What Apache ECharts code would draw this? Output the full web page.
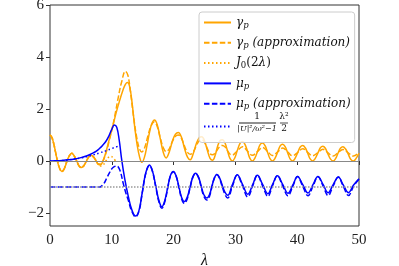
<!DOCTYPE html>
<html><head><meta charset="utf-8">
<script src="https://cdn.jsdelivr.net/npm/echarts@6/dist/echarts.min.js"></script>
<style>html,body{margin:0;padding:0;background:#fff}#c{width:399px;height:266px}</style>
</head><body><div id="c"></div>
<script>
// ---- data ----
var xTicks = [0, 10, 20, 30, 40, 50];
var yTicks = [-2, 0, 2, 4, 6];
var refLevels = [0, -1];

// common early part (lambda < 7.5) of the orange curves
var earlyL = [0,0.3,0.6,0.9,1.2,1.55,1.92,2.3,2.76,3.1,3.51,3.9,4.33,4.7,5.09,5.5,5.9,6.3,6.66,7.05,7.47];
var earlyV = [1.0,0.91,0.67,0.34,0.0,-0.28,-0.40,-0.30,0.0,0.19,0.30,0.20,0.0,-0.19,-0.25,-0.17,0.0,0.16,0.22,0.15,0.0];

// gamma_p (solid orange), after the early part
var gammaL = [7.85,8.15,8.55,9.0,9.4,9.8,10.2,10.7,11.3,11.8,12.2,12.55,12.9,13.3,13.7,14.1,14.5,14.85,15.25,15.7,16.1,16.5,16.9,17.35,17.85,18.35,18.8,19.3,19.85,20.3,20.75,21.25,21.75,22.25,22.7,23.2,23.7,24.15,24.55,25.0,25.45,25.9,26.3,26.7,27.1,27.5,27.9,28.3,28.7,29.1,29.5,29.9,30.3,30.75,31.15,31.55,31.95,32.35,32.75,33.15,33.6,34.0,34.4,34.8,35.2,35.6,36.0,36.4,36.85,37.25,37.65,38.05,38.45,38.85,39.25,39.65,40.1,40.5,40.9,41.3,41.7,42.1,42.5,42.9,43.35,43.75,44.15,44.55,44.95,45.4,45.8,46.2,46.6,47.0,47.4,47.8,48.25,48.65,49.1,49.5,50.0];
var gammaV = [-0.13,-0.15,-0.02,0.3,0.66,1.02,1.38,1.85,2.35,2.72,2.95,3.02,2.85,2.2,1.32,0.62,0.15,-0.05,0.12,0.6,1.1,1.45,1.58,1.4,0.85,0.32,0.12,0.35,0.8,1.03,1.1,0.93,0.5,0.15,0.05,0.3,0.68,0.9,0.93,0.78,0.42,0.1,0.03,0.2,0.55,0.78,0.82,0.7,0.41,0.11,0.0,0.12,0.4,0.68,0.75,0.64,0.38,0.1,0.0,0.11,0.38,0.63,0.69,0.59,0.34,0.09,0.0,0.1,0.35,0.58,0.64,0.55,0.32,0.08,0.0,0.1,0.33,0.54,0.6,0.51,0.3,0.08,0.0,0.09,0.31,0.51,0.57,0.49,0.28,0.07,0.0,0.09,0.3,0.49,0.55,0.47,0.27,0.07,0.0,0.09,0.3];

// gamma_p approximation (dashed orange), after the early part
var gammaApproxL = [7.85,8.2,8.6,9.2,9.6,10.0,10.5,11.05,11.6,12.2,12.6,13.0,13.5,14.0,14.45,14.85,15.3,15.8,16.3,16.85,17.35,17.85,18.35,18.8,19.3,19.8,20.3,20.75,21.25,21.75,22.25,22.7,23.2,23.7,24.15,24.55,25.0,25.45,25.9,26.3,26.7,27.1,27.5,27.9,28.3,28.7,29.1,29.5,30.3,31.15,31.95,32.75,33.6,34.4,35.2,36.0,36.85,37.65,38.45,39.25,40.1,40.9,41.7,42.5,43.35,44.15,44.95,45.8,46.6,47.4,48.25,49.1,50.0];
var gammaApproxV = [-0.12,-0.12,0.02,0.42,0.8,1.19,1.75,2.45,3.05,3.45,3.3,2.7,1.75,0.95,0.48,0.35,0.5,0.92,1.32,1.5,1.33,0.88,0.5,0.36,0.47,0.75,0.95,1.0,0.88,0.58,0.33,0.26,0.36,0.6,0.78,0.82,0.72,0.48,0.28,0.24,0.3,0.44,0.56,0.6,0.55,0.4,0.27,0.23,0.39,0.55,0.385,0.22,0.37,0.52,0.365,0.21,0.355,0.5,0.35,0.2,0.335,0.47,0.335,0.2,0.325,0.45,0.32,0.19,0.315,0.44,0.315,0.19,0.33];

// J0(2 lambda) (dotted orange), after the early part
var besselL = [7.85,8.24,8.65,9.04,9.4,9.81,10.2,10.6];
var besselV = [-0.15,-0.197,-0.14,0.0,0.13,0.18,0.13,0.0];

// mu_p (solid blue)
var muL = [0,1,2,3,4,5,6,7,7.5,8,8.5,9,9.5,10,10.4,10.8,11.2,11.6,12.1,12.66,13.2,13.85,14.4,14.9,15.5,16.1,16.6,17.1,17.6,18.1,18.6,19.1,19.5,19.95,20.4,20.85,21.3,21.75,22.2,22.65,23.1,23.55,24.0,24.45,24.9,25.4,25.8,26.2,26.6,27.0,27.4,27.85,28.3,28.75,29.5,30.3,31.15,32.0,32.8,33.55,34.4,35.25,36.0,36.8,37.65,38.5,39.3,40.05,40.9,41.75,42.55,43.35,44.2,45.0,45.8,46.65,47.45,48.3,49.1,50.0];
var muV = [0,0.005,0.02,0.045,0.08,0.13,0.2,0.31,0.38,0.48,0.6,0.74,0.95,1.22,1.38,1.3,0.8,0.05,-0.7,-1.35,-1.85,-2.12,-1.9,-1.25,-0.45,-0.15,-0.4,-0.95,-1.5,-1.76,-1.5,-0.95,-0.55,-0.4,-0.57,-0.98,-1.4,-1.56,-1.4,-1.02,-0.62,-0.47,-0.6,-0.95,-1.3,-1.42,-1.3,-0.97,-0.65,-0.52,-0.63,-0.92,-1.2,-1.32,-0.92,-0.53,-0.9,-1.28,-0.91,-0.55,-0.9,-1.26,-0.91,-0.57,-0.9,-1.24,-0.92,-0.6,-0.91,-1.23,-0.91,-0.6,-0.91,-1.22,-0.92,-0.62,-0.92,-1.22,-0.93,-0.68];

// mu_p approximation (dashed blue)
var muApproxL = [0,8,8.3,8.7,9.2,9.7,10.2,10.8,11.3,11.85,12.3,12.66,13.2,13.85,14.4,14.9,15.5,16.1,16.6,17.1,17.6,18.1,18.6,19.1,19.5,19.95,20.4,20.85,21.3,21.75,22.2,22.65,23.1,23.55,24.0,24.45,24.9,25.4,25.8,26.2,26.6,27.0,27.4,27.85,28.3,28.75,29.5,30.3,31.15,32.0,32.8,33.55,34.4,35.25,36.0,36.8,37.65,38.5,39.3,40.05,40.9,41.75,42.55,43.35,44.2,45.0,45.8,46.65,47.45,48.3,49.1,50.0];
var muApproxV = [-1,-1,-0.97,-0.88,-0.65,-0.42,-0.25,-0.19,-0.35,-0.86,-1.25,-1.5,-1.92,-2.15,-1.93,-1.27,-0.47,-0.17,-0.42,-0.98,-1.55,-1.82,-1.55,-0.98,-0.57,-0.41,-0.58,-1.0,-1.46,-1.63,-1.46,-1.05,-0.63,-0.48,-0.62,-0.99,-1.36,-1.5,-1.36,-1.0,-0.66,-0.52,-0.65,-0.97,-1.28,-1.42,-0.98,-0.54,-0.96,-1.38,-0.96,-0.55,-0.96,-1.36,-0.96,-0.57,-0.96,-1.34,-0.97,-0.6,-0.97,-1.34,-0.97,-0.61,-0.97,-1.33,-0.97,-0.62,-0.97,-1.33,-0.98,-0.7];

// 1/(|U|^2/w^2-1) * lambda^2/2 (dotted blue)
var quadL = [0,1,2,3,4,5,6,7,8,9,10,11.15];
var quadV = [0,0.005,0.02,0.045,0.08,0.12,0.17,0.235,0.31,0.39,0.48,0.58];

function pairs(L, V) { return L.map(function (l, i) { return [l, V[i]]; }); }

var ORANGE = '#FFA500', BLUE = '#0000FF';
var SERIF = '"DejaVu Serif", "Liberation Serif", serif';
var TSERIF = '"Liberation Serif", "DejaVu Serif", serif';

var names = ['g', 'ga', 'j0', 'm', 'ma', 'fr'];
var labels = {
  g: '{i|γ}{sb|p}',
  ga: '{i|γ}{sb|p}{i| (approximation)}',
  j0: '{i|J}{su|0}{r|(2}{i|λ}{r|)}',
  m: '{i|μ}{sb|p}',
  ma: '{i|μ}{sb|p}{i| (approximation)}',
  fr: '{blank| }'
};

function line(name, data, color, type) {
  return {
    name: name, type: 'line', data: data, smooth: 0.4, symbol: 'none', z: 3,
    lineStyle: { color: color, width: 1.5, type: type }, itemStyle: { color: color },
    clip: true, animation: false
  };
}

// fraction label of the last legend entry (text drawn next to its legend line)
var fracText = { num1: '1', den1: '|U|²/ω²−1', num2: 'λ²', den2: '2' };
var FX = 238, FY = 123;
function ftxt(t, x, y, italic, size) {
  return { type: 'text', z: 100, x: x, y: y, style: { text: t, fill: '#111', font: (italic ? 'italic ' : '') + size + 'px ' + SERIF, align: 'center', verticalAlign: 'middle' } };
}
function fbar(x, w) {
  return { type: 'rect', z: 100, shape: { x: x, y: FY - 0.4, width: w, height: 0.8 }, style: { fill: '#222' } };
}

var chart = echarts.init(document.getElementById('c'), null, { renderer: 'canvas' });
chart.setOption({
  animation: false,
  grid: { left: 50, right: 40, top: 5, bottom: 40, show: true, borderColor: '#333', borderWidth: 1,
    backgroundColor: 'transparent', outerBoundsMode: 'none', containLabel: false },
  xAxis: {
    type: 'value', min: 0, max: 50, interval: 10,
    name: 'λ', nameLocation: 'middle', nameGap: 23,
    nameTextStyle: { fontFamily: TSERIF, fontStyle: 'italic', fontSize: 16, color: '#111' },
    axisLine: { show: false }, splitLine: { show: false },
    axisTick: { show: true, inside: false, length: 4, lineStyle: { color: '#333' } },
    axisLabel: { margin: 7, fontFamily: TSERIF, fontSize: 15, color: '#222' }
  },
  yAxis: {
    type: 'value', min: -2.5, max: 6,
    axisLine: { show: false }, splitLine: { show: false },
    axisTick: { show: true, inside: false, length: 4, customValues: yTicks, lineStyle: { color: '#333' } },
    axisLabel: { margin: 6, fontFamily: TSERIF, fontSize: 15, color: '#222', customValues: yTicks,
      formatter: function (v) { return String(v).replace('-', '−'); } }
  },
  legend: {
    orient: 'vertical', left: 199, top: 12, data: names,
    itemWidth: 27, itemHeight: 14, itemGap: 5.3,
    padding: [3, 4, 6, 4],
    itemStyle: { opacity: 0 },
    backgroundColor: 'rgba(255,255,255,0.8)', borderColor: '#ccc', borderWidth: 1, borderRadius: 3,
    formatter: function (n) { return labels[n]; },
    textStyle: {
      fontFamily: SERIF, fontSize: 12, color: '#111', lineHeight: 14,
      rich: {
        i: { fontFamily: SERIF, fontStyle: 'italic', fontSize: 12, lineHeight: 14, color: '#111' },
        r: { fontFamily: SERIF, fontSize: 12, lineHeight: 14, color: '#111' },
        sb: { fontFamily: SERIF, fontStyle: 'italic', fontSize: 8.5, lineHeight: 14, padding: [6, 0, 0, 0], color: '#111' },
        su: { fontFamily: SERIF, fontSize: 8.5, lineHeight: 14, padding: [6, 0, 0, 0], color: '#111' },
        blank: { fontSize: 10, lineHeight: 20, width: 60 }
      }
    }
  },
  graphic: [
    ftxt(fracText.num1, FX + 19, FY - 6, false, 9),
    fbar(FX + 1, 37),
    ftxt(fracText.den1, FX + 19, FY + 6, true, 8),
    ftxt(fracText.num2, FX + 46, FY - 6.5, false, 9),
    fbar(FX + 42, 8),
    ftxt(fracText.den2, FX + 46, FY + 6, false, 9)
  ],
  series: [
    {
      name: 'ref', type: 'line', data: [], z: 1, silent: true,
      markLine: {
        silent: true, symbol: 'none', label: { show: false }, animation: false,
        data: [
          { yAxis: refLevels[0], lineStyle: { color: '#888', width: 1.2, type: 'solid' } },
          { yAxis: refLevels[1], lineStyle: { color: '#999', width: 1.5, type: [1.5, 1.5] } }
        ]
      }
    },
    line('g', pairs(earlyL, earlyV).concat(pairs(gammaL, gammaV)), ORANGE, 'solid'),
    line('ga', pairs(earlyL, earlyV).concat(pairs(gammaApproxL, gammaApproxV)), ORANGE, [5.5, 2.4]),
    line('j0', pairs(earlyL, earlyV).concat(pairs(besselL, besselV)), ORANGE, [1.5, 2.5]),
    line('m', pairs(muL, muV), BLUE, 'solid'),
    line('ma', pairs(muApproxL, muApproxV), BLUE, [5.5, 2.4]),
    line('fr', pairs(quadL, quadV), BLUE, [1.5, 2.5])
  ]
});
</script></body></html>
